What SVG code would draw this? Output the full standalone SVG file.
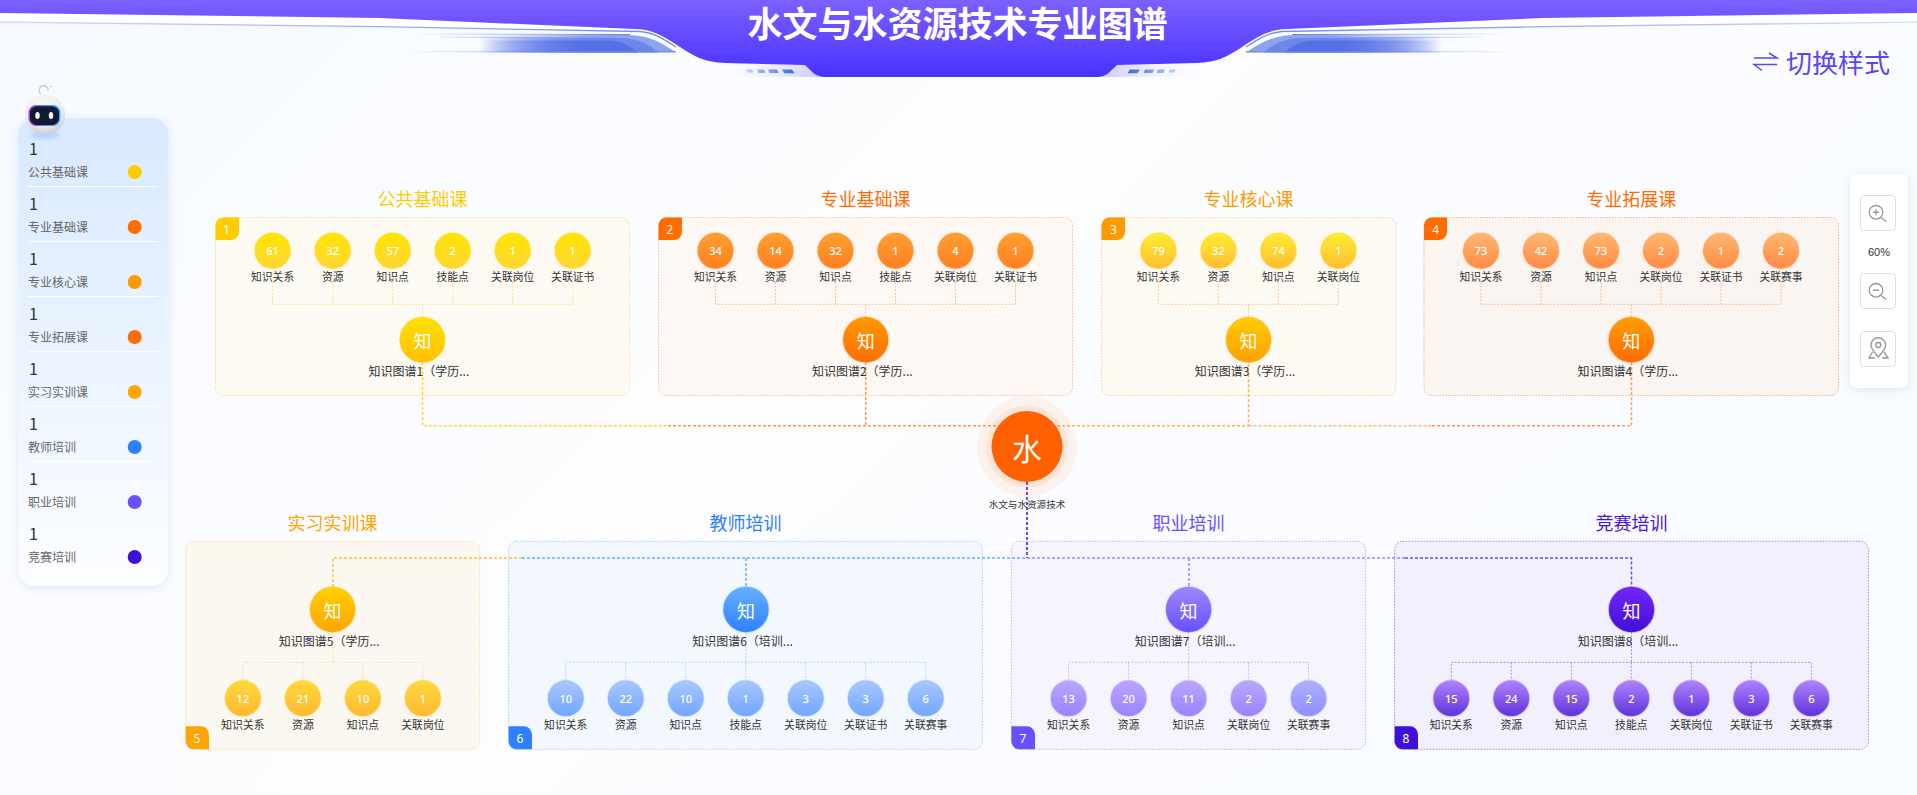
<svg xmlns="http://www.w3.org/2000/svg" xmlns:xlink="http://www.w3.org/1999/xlink" width="1917" height="795" viewBox="0 0 1917 795">
<defs>
<linearGradient id="bg" x1="0" y1="0" x2="1" y2="0.4"><stop offset="0" stop-color="#f5f9ff"/><stop offset="0.5" stop-color="#fdfdff"/><stop offset="1" stop-color="#f8fbff"/></linearGradient>
<linearGradient id="band" gradientUnits="userSpaceOnUse" x1="0" y1="0" x2="0" y2="77"><stop offset="0" stop-color="#7c60ff"/><stop offset="1" stop-color="#4732ff"/></linearGradient>
<linearGradient id="legend" x1="0" y1="0" x2="0" y2="1"><stop offset="0" stop-color="#d8e9ff"/><stop offset="0.6" stop-color="#eef6ff"/><stop offset="1" stop-color="#fcfdff"/></linearGradient>
<linearGradient id="line" gradientUnits="userSpaceOnUse" x1="0" y1="0" x2="670" y2="0"><stop offset="0" stop-color="#cfe0fc"/><stop offset="1" stop-color="#6d8cf0"/></linearGradient>
<linearGradient id="w1" gradientUnits="userSpaceOnUse" x1="480" y1="0" x2="590" y2="0"><stop offset="0" stop-color="#8aa4ee" stop-opacity="0"/><stop offset="1" stop-color="#8aa4ee"/></linearGradient>
<linearGradient id="w2" gradientUnits="userSpaceOnUse" x1="480" y1="0" x2="590" y2="0"><stop offset="0" stop-color="#6f86e8" stop-opacity="0"/><stop offset="1" stop-color="#6f86e8"/></linearGradient>
<linearGradient id="w3" gradientUnits="userSpaceOnUse" x1="480" y1="0" x2="590" y2="0"><stop offset="0" stop-color="#566ee6" stop-opacity="0"/><stop offset="1" stop-color="#566ee6"/></linearGradient>
<linearGradient id="wl" gradientUnits="userSpaceOnUse" x1="405" y1="0" x2="600" y2="0"><stop offset="0" stop-color="#6d86e8" stop-opacity="0"/><stop offset="1" stop-color="#6d86e8"/></linearGradient>
<linearGradient id="sh" gradientUnits="userSpaceOnUse" x1="715" y1="0" x2="825" y2="0"><stop offset="0" stop-color="#ffffff" stop-opacity="0"/><stop offset="1" stop-color="#c4c4fb"/></linearGradient>
<linearGradient id="dt" gradientUnits="userSpaceOnUse" x1="745" y1="0" x2="796" y2="0"><stop offset="0" stop-color="#bcd6f5"/><stop offset="1" stop-color="#3468d6"/></linearGradient>
<linearGradient id="s1" x1="0" y1="0" x2="0" y2="1"><stop offset="0" stop-color="#ffe500"/><stop offset="1" stop-color="#ffd535"/></linearGradient>
<linearGradient id="s2" x1="0" y1="0" x2="0" y2="1"><stop offset="0" stop-color="#ffa030"/><stop offset="1" stop-color="#ff7f22"/></linearGradient>
<linearGradient id="s3" x1="0" y1="0" x2="0" y2="1"><stop offset="0" stop-color="#ffee2e"/><stop offset="1" stop-color="#ffbc33"/></linearGradient>
<linearGradient id="s4" x1="0" y1="0" x2="0" y2="1"><stop offset="0" stop-color="#ffb870"/><stop offset="1" stop-color="#ff8a45"/></linearGradient>
<linearGradient id="s5" x1="0" y1="0" x2="0" y2="1"><stop offset="0" stop-color="#ffd93a"/><stop offset="1" stop-color="#ffb833"/></linearGradient>
<linearGradient id="s6" x1="0" y1="0" x2="0" y2="1"><stop offset="0" stop-color="#a8c8ff"/><stop offset="1" stop-color="#72a6ff"/></linearGradient>
<linearGradient id="s7" x1="0" y1="0" x2="0" y2="1"><stop offset="0" stop-color="#bba6ff"/><stop offset="1" stop-color="#9c82ff"/></linearGradient>
<linearGradient id="s9" x1="0" y1="0" x2="0" y2="1"><stop offset="0" stop-color="#aeaeff"/><stop offset="1" stop-color="#8f8fff"/></linearGradient>
<linearGradient id="s8" x1="0" y1="0" x2="0" y2="1"><stop offset="0" stop-color="#b083ff"/><stop offset="1" stop-color="#5f33d8"/></linearGradient>
<linearGradient id="b1" x1="0" y1="0" x2="0" y2="1"><stop offset="0" stop-color="#ffe000"/><stop offset="1" stop-color="#ffc000"/></linearGradient>
<linearGradient id="b2" x1="0" y1="0" x2="0" y2="1"><stop offset="0" stop-color="#ff9a00"/><stop offset="1" stop-color="#ff6d00"/></linearGradient>
<linearGradient id="b3" x1="0" y1="0" x2="0" y2="1"><stop offset="0" stop-color="#ffcc00"/><stop offset="1" stop-color="#ff9f00"/></linearGradient>
<linearGradient id="b4" x1="0" y1="0" x2="0" y2="1"><stop offset="0" stop-color="#ff9f00"/><stop offset="1" stop-color="#ff6a00"/></linearGradient>
<linearGradient id="b5" x1="0" y1="0" x2="0" y2="1"><stop offset="0" stop-color="#ffd000"/><stop offset="1" stop-color="#ffa500"/></linearGradient>
<linearGradient id="b6" x1="0" y1="0" x2="0" y2="1"><stop offset="0" stop-color="#66b0ff"/><stop offset="1" stop-color="#2f80ff"/></linearGradient>
<linearGradient id="b7" x1="0" y1="0" x2="0" y2="1"><stop offset="0" stop-color="#9c88ff"/><stop offset="1" stop-color="#6650ff"/></linearGradient>
<linearGradient id="b8" x1="0" y1="0" x2="0" y2="1"><stop offset="0" stop-color="#7426f5"/><stop offset="1" stop-color="#4010d8"/></linearGradient>
<radialGradient id="egg" cx="0.45" cy="0.3" r="0.75"><stop offset="0" stop-color="#fbfbfb"/><stop offset="0.65" stop-color="#ececee"/><stop offset="1" stop-color="#c6c6cc"/></radialGradient>
<linearGradient id="visor" x1="0" y1="0" x2="1" y2="0"><stop offset="0" stop-color="#b040d0"/><stop offset="1" stop-color="#30b0ff"/></linearGradient>
<filter id="soft" x="-20%" y="-20%" width="140%" height="140%"><feDropShadow dx="0" dy="2" stdDeviation="5" flood-color="#9ab4dc" flood-opacity="0.28"/></filter>
<filter id="blur2" x="-50%" y="-50%" width="200%" height="200%"><feGaussianBlur stdDeviation="2"/></filter>
<g id="wing">
<path d="M720 64 L805 65 C810 71 815 75 825 77 H700 Z" fill="url(#sh)"/>
<g fill="url(#dt)"><path d="M746 69.5h6l1.500 3h-6z"/><path d="M757 69.500h7l1.500 3.500h-7z"/><path d="M768 69.500h9l1.500 3.500h-9z"/><path d="M782 69.500h10l2.500 3.800h-10z"/></g>
<path d="M0 13 L380 18 L640 29.300 C655 31 665 37 680 47 L672 44 C660 36 650 33 640 32.500 L380 27 L0 22 Z" fill="#ffffff"/>
<path d="M0 22 L380 26.700 L640 31.500 C655 33 664 39 676 47" fill="none" stroke="url(#line)" stroke-width="1.300"/>
<path d="M480 35 L630 35 C650 36 662 43 676 52.500 H480 Z" fill="url(#w1)"/>
<path d="M480 38 L622 38 C640 39 650 45 658 52.500 H480 Z" fill="url(#w2)"/>
<path d="M480 40.500 L610 40.500 C622 41 630 46 638 52.500 H480 Z" fill="url(#w3)"/>
<path d="M407 51.700 H676 M420 34 L630 34.500 M440 37 L620 38.500" fill="none" stroke="url(#wl)" stroke-width="1"/>
</g>
</defs>
<style>
text{font-family:"Noto Sans CJK SC","Noto Sans",sans-serif;dominant-baseline:central}
.m{text-anchor:middle}
.ti{font-size:18px;text-anchor:middle}
.lb{font-size:10.8px;fill:#333;text-anchor:middle}
.nm{font-size:11px;fill:#fff;text-anchor:middle;font-family:"Noto Sans",sans-serif;font-weight:500}
.bl{font-size:12px;fill:#333}
.bt{font-size:18px;fill:#fff;text-anchor:middle}
.tn{font-size:12px;fill:#fff;text-anchor:middle;font-family:"Noto Sans",sans-serif}
.ln{font-size:12px;fill:#666}
.n1{font-size:16px;fill:#333;font-family:"Liberation Sans",sans-serif}
.pn{stroke-width:1;stroke-dasharray:1.500 1.500;stroke-opacity:.85}
.cn{fill:none;stroke-width:1.500;stroke-dasharray:3 2}
.th{fill:none;stroke-width:1;stroke-dasharray:2 1.500}
.bd{stroke-width:2;stroke-opacity:.22}
.ico{fill:none;stroke:#9b9b9b;stroke-width:1.400}
.btn{fill:#fff;stroke:#ddd;stroke-width:1}
</style>
<rect id="background" width="1917" height="795" fill="url(#bg)"/>
<g id="header">
<use href="#wing"/>
<use href="#wing" transform="translate(1922,0) scale(-1,1)"/>
<path d="M0 0H1917V13 L1542 18 L1282 29.300 C1267 31 1257 37 1242 47 C1227 57 1217 62 1197 63 L1117 65 C1110 72 1106 77 1097 77 H825 C816 77 812 72 805 65 L725 63 C705 62 695 57 680 47 C665 37 655 31 640 29.300 L380 18 L0 13 Z" fill="url(#band)"/>
<text x="957.500" y="21.500" class="m" font-size="35" font-weight="700" fill="#fff">水文与水资源技术专业图谱</text>
</g>
<g id="switch-style">
<path d="M1754 58 H1777 L1769 53 M1777 64.500 H1754 L1762 70.500" fill="none" stroke="#5a46f5" stroke-width="1.500"/>
<text x="1786" y="61.500" font-size="26" fill="#5a46f5">切换样式</text>
</g>
<g id="legend-panel">
<rect x="18.400" y="118.300" width="149.800" height="467.400" rx="16" fill="url(#legend)" filter="url(#soft)"/>
<g fill="#fff"><rect x="28" y="186" width="130" height="1"/><rect x="28" y="241" width="130" height="1"/><rect x="28" y="296" width="130" height="1"/><rect x="28" y="351" width="130" height="1"/><rect x="28" y="406" width="130" height="1"/><rect x="28" y="461" width="130" height="1"/><rect x="28" y="516" width="130" height="1"/><rect x="28" y="571" width="130" height="1"/></g>
<g class="n1"><text x="29" y="148">1</text><text x="29" y="203">1</text><text x="29" y="258">1</text><text x="29" y="313">1</text><text x="29" y="368">1</text><text x="29" y="423">1</text><text x="29" y="478">1</text><text x="29" y="533">1</text></g>
<g class="ln"><text x="28" y="171.300">公共基础课</text><text x="28" y="226.300">专业基础课</text><text x="28" y="281.300">专业核心课</text><text x="28" y="336.300">专业拓展课</text><text x="28" y="391.300">实习实训课</text><text x="28" y="446.300">教师培训</text><text x="28" y="501.300">职业培训</text><text x="28" y="556.300">竞赛培训</text></g>
<circle cx="134.700" cy="172" r="7" fill="#ffcc00"/><circle cx="134.700" cy="227" r="7" fill="#ff6d00"/><circle cx="134.700" cy="282" r="7" fill="#ff9900"/><circle cx="134.700" cy="337" r="7" fill="#ff6d00"/><circle cx="134.700" cy="392" r="7" fill="#ffa500"/><circle cx="134.700" cy="447" r="7" fill="#2f80ff"/><circle cx="134.700" cy="502" r="7" fill="#6650ff"/><circle cx="134.700" cy="557" r="7" fill="#4010d8"/>
</g>
<g id="robot">
<ellipse cx="45" cy="135" rx="15" ry="3" fill="#a8ccff" filter="url(#blur2)"/>
<path d="M41 94 a4.500 4.500 0 1 1 7 -3 M40 86 l1 1 M45 84 v1.500 M50 87 l2 -1" fill="none" stroke="#c6c6cc" stroke-width="1.200"/>
<circle cx="45" cy="114.500" r="20" fill="url(#egg)"/>
<rect x="28.500" y="105" width="32" height="21" rx="7.500" fill="url(#visor)"/>
<rect x="30" y="106.200" width="29" height="18.800" rx="7" fill="#111a33"/>
<ellipse cx="37.500" cy="115.500" rx="2.200" ry="3.500" fill="#fff"/><ellipse cx="51" cy="115.500" rx="2.200" ry="3.500" fill="#fff"/>
</g>
<g id="zoom-controls">
<rect x="1850" y="174" width="58" height="214" rx="8" fill="#fff" filter="url(#soft)"/>
<rect class="btn" x="1860.500" y="195.500" width="35" height="35" rx="3"/>
<circle class="ico" cx="1876" cy="212.300" r="6.800"/><path class="ico" d="M1881 217.500 L1886.500 221.500 M1873 212.300 H1879 M1876 209.300 V215.300"/>
<text x="1879" y="252" class="m" font-size="11" fill="#333" style="font-family:'Liberation Sans',sans-serif">60%</text>
<rect class="btn" x="1860.500" y="273.500" width="35" height="35" rx="3"/>
<circle class="ico" cx="1876" cy="290.300" r="6.800"/><path class="ico" d="M1881 295.500 L1886.500 299.500 M1873 290.300 H1879"/>
<rect class="btn" x="1860.500" y="331.500" width="35" height="35" rx="3"/>
<path class="ico" d="M1878.300 357 C1874 352 1871 349 1871 345 A7.300 7.300 0 0 1 1885.600 345 C1885.600 349 1882.600 352 1878.300 357 Z M1872.500 352 L1869 358 H1875 M1884 352 L1888 358 H1882"/><circle class="ico" cx="1878.300" cy="345" r="2.500"/>
</g>

<g id="panels">
<g><text x="422.400" y="198.300" class="ti" fill="#ffcc00">公共基础课</text><rect class="pn" x="215.500" y="217.500" width="414" height="178" rx="8" fill="#fcfaf3" stroke="#ffd966"/><path d="M215.500 225.500a8 8 0 0 1 8-8H239V232a8 8 0 0 1-8 8H215.500Z" fill="#ffcc00"/><text class="tn" x="226.500" y="229">1</text></g>
<g><text x="865.400" y="198.300" class="ti" fill="#ff6d00">专业基础课</text><rect class="pn" x="658.500" y="217.500" width="414" height="178" rx="8" fill="#fdf8f3" stroke="#ffb07a"/><path d="M658.500 225.500a8 8 0 0 1 8-8H682V232a8 8 0 0 1-8 8H658.500Z" fill="#ff6d00"/><text class="tn" x="669.700" y="229">2</text></g>
<g><text x="1248.500" y="198.300" class="ti" fill="#ff9900">专业核心课</text><rect class="pn" x="1101.500" y="217.500" width="294.300" height="178" rx="8" fill="#fdfaf4" stroke="#ffc880"/><path d="M1101.500 225.500a8 8 0 0 1 8-8H1125V232a8 8 0 0 1-8 8H1101.500Z" fill="#ff9900"/><text class="tn" x="1113.500" y="229">3</text></g>
<g><text x="1631.300" y="198.300" class="ti" fill="#ff6d00">专业拓展课</text><rect class="pn" x="1424" y="217.500" width="414.500" height="178" rx="8" fill="#faf5f1" stroke="#ffa566"/><path d="M1424 225.500a8 8 0 0 1 8-8H1447V232a8 8 0 0 1-8 8H1424Z" fill="#ff6d00"/><text class="tn" x="1435.800" y="229">4</text></g>
<g><text x="332.600" y="522.300" class="ti" fill="#ffa500">实习实训课</text><rect class="pn" x="185.700" y="541.300" width="294" height="208" rx="8" fill="#fbf8f1" stroke="#ffcf80"/><path d="M185.700 726.300H201a8 8 0 0 1 8 8V749.300H193.700a8 8 0 0 1-8-8Z" fill="#ffa500"/><text class="tn" x="197" y="738">5</text></g>
<g><text x="745.500" y="522.300" class="ti" fill="#2f80ff">教师培训</text><rect class="pn" x="508.600" y="541.300" width="473.800" height="208" rx="8" fill="#f3f8ff" stroke="#99c2ff"/><path d="M508.600 726.300H524a8 8 0 0 1 8 8V749.300H516.600a8 8 0 0 1-8-8Z" fill="#2f80ff"/><text class="tn" x="520" y="738">6</text></g>
<g><text x="1188.500" y="522.300" class="ti" fill="#6650ff">职业培训</text><rect class="pn" x="1011.400" y="541.300" width="354.200" height="208" rx="8" fill="#f6f5fe" stroke="#b3a6ff"/><path d="M1011.400 726.300H1027a8 8 0 0 1 8 8V749.300H1019.400a8 8 0 0 1-8-8Z" fill="#6650ff"/><text class="tn" x="1023" y="738">7</text></g>
<g><text x="1631.500" y="522.300" class="ti" fill="#4a14e0">竞赛培训</text><rect class="pn" x="1394.600" y="541.300" width="473.800" height="208" rx="8" fill="#f1f0fc" stroke="#8d75ee"/><path d="M1394.600 726.300H1410a8 8 0 0 1 8 8V749.300H1402.600a8 8 0 0 1-8-8Z" fill="#4010d8"/><text class="tn" x="1406" y="738">8</text></g>
</g>

<g id="connectors">
<path class="th" stroke="#ffe28a" d="M272.600 282V304.300H572.700V282M332.700 282V304.300M392.700 282V304.300M452.700 282V304.300M512.700 282V304.300M422.500 304.300V317"/>
<path class="th" stroke="#ffbf8c" d="M715.500 282V304.300H1015.500V282M775.500 282V304.300M835.500 282V304.300M895.500 282V304.300M955.500 282V304.300M865.700 304.300V317"/>
<path class="th" stroke="#ffc98a" d="M1158.400 282V304.300H1338.400V282M1218.400 282V304.300M1278.400 282V304.300M1248.500 304.300V317"/>
<path class="th" stroke="#ffb88c" d="M1481 282V304.300H1781V282M1541 282V304.300M1601 282V304.300M1661 282V304.300M1721 282V304.300M1631.300 304.300V317"/>
<path class="th" stroke="#ffdda6" d="M333 632V662.300M243 680V662.300H423V680M303 662.300V680M363 662.300V680"/>
<path class="th" stroke="#b9d3ff" d="M746 632V662.300M565.700 680V662.300H925.700V680M625.700 662.300V680M685.700 662.300V680M745.700 662.300V680M805.700 662.300V680M865.700 662.300V680"/>
<path class="th" stroke="#c5bbff" d="M1188.600 632V662.300M1068.600 680V662.300H1308.600V680M1128.600 662.300V680M1188.600 662.300V680M1248.600 662.300V680"/>
<path class="th" stroke="#a78ff5" d="M1631.500 632V662.300M1451.300 680V662.300H1811.300V680M1511.300 662.300V680M1571.300 662.300V680M1631.300 662.300V680M1691.300 662.300V680M1751.300 662.300V680"/>
<path class="cn" stroke="#ffd633" d="M422.500 362V425.700H668"/>
<path class="cn" stroke="#ff9a40" d="M668 425.700H1027M865.700 362V425.700"/>
<path class="cn" stroke="#ffb050" d="M1027 425.700H1248.500V362"/>
<path class="cn" stroke="#ffc068" d="M1248.500 425.700H1432"/>
<path class="cn" stroke="#ff9a55" d="M1432 425.700H1631.500V362"/>
<path class="cn" stroke="#ffb84d" d="M522 558H333V587"/>
<path class="cn" stroke="#6ea8ff" d="M522 558H1027M746 558V587"/>
<path class="cn" stroke="#9d85ff" d="M1027 558H1405M1189 558V587"/>
<path class="cn" stroke="#7048e6" d="M1405 558H1631.500V587"/>
<path class="cn" stroke="#4010d8" d="M1027 482V558"/>
</g>

<g id="root"><circle cx="1027" cy="446.500" r="50" fill="#ff6000" opacity=".07"/><circle cx="1027" cy="446.500" r="41" fill="#ff6000" opacity=".09"/><circle cx="1027" cy="446.500" r="35.500" fill="#ff6000"/><text x="1027" y="446.500" class="m" font-size="30" fill="#fff">水</text><text x="1027" y="503.700" class="m" font-size="9.600" fill="#333">水文与水资源技术</text></g>

<g id="kg1" transform="translate(422.400,339.700)"><circle class="bd" r="22.700" fill="url(#b1)" stroke="#ffcc00"/><text class="bt">知</text><text class="bl" x="-53.800" y="31.200">知识图谱1（学历...</text></g>
<g id="kg2" transform="translate(865.700,339.700)"><circle class="bd" r="22.700" fill="url(#b2)" stroke="#ff8a30"/><text class="bt">知</text><text class="bl" x="-53.800" y="31.200">知识图谱2（学历...</text></g>
<g id="kg3" transform="translate(1248.500,339.700)"><circle class="bd" r="22.700" fill="url(#b3)" stroke="#ffb030"/><text class="bt">知</text><text class="bl" x="-53.800" y="31.200">知识图谱3（学历...</text></g>
<g id="kg4" transform="translate(1631.300,339.700)"><circle class="bd" r="22.700" fill="url(#b4)" stroke="#ff8a30"/><text class="bt">知</text><text class="bl" x="-53.800" y="31.200">知识图谱4（学历...</text></g>
<g id="kg5" transform="translate(332.600,609.500)"><circle class="bd" r="22.700" fill="url(#b5)" stroke="#ffb830"/><text class="bt">知</text><text class="bl" x="-53.800" y="31.400">知识图谱5（学历...</text></g>
<g id="kg6" transform="translate(746,609.500)"><circle class="bd" r="22.700" fill="url(#b6)" stroke="#66a0ff"/><text class="bt">知</text><text class="bl" x="-53.800" y="31.400">知识图谱6（培训...</text></g>
<g id="kg7" transform="translate(1188.600,609.500)"><circle class="bd" r="22.700" fill="url(#b7)" stroke="#8070ff"/><text class="bt">知</text><text class="bl" x="-53.800" y="31.400">知识图谱7（培训...</text></g>
<g id="kg8" transform="translate(1631.500,609.500)"><circle class="bd" r="22.700" fill="url(#b8)" stroke="#6030e0"/><text class="bt">知</text><text class="bl" x="-53.800" y="31.400">知识图谱8（培训...</text></g>

<g id="group1" fill="url(#s1)" stroke="#ffd633" class="bd">
<g id="n1a" transform="translate(272.600,250.700)"><circle r="18"/><text class="nm" stroke="none">61</text><text class="lb" y="25.300" stroke="none">知识关系</text></g>
<g id="n1b" transform="translate(332.700,250.700)"><circle r="18"/><text class="nm" stroke="none">32</text><text class="lb" y="25.300" stroke="none">资源</text></g>
<g id="n1c" transform="translate(392.700,250.700)"><circle r="18"/><text class="nm" stroke="none">57</text><text class="lb" y="25.300" stroke="none">知识点</text></g>
<g id="n1d" transform="translate(452.700,250.700)"><circle r="18"/><text class="nm" stroke="none">2</text><text class="lb" y="25.300" stroke="none">技能点</text></g>
<g id="n1e" transform="translate(512.700,250.700)"><circle r="18"/><text class="nm" stroke="none">1</text><text class="lb" y="25.300" stroke="none">关联岗位</text></g>
<g id="n1f" transform="translate(572.700,250.700)"><circle r="18"/><text class="nm" stroke="none">1</text><text class="lb" y="25.300" stroke="none">关联证书</text></g>
</g>
<g id="group2" fill="url(#s2)" stroke="#ff9a50" class="bd">
<g id="n2a" transform="translate(715.500,250.700)"><circle r="18"/><text class="nm" stroke="none">34</text><text class="lb" y="25.300" stroke="none">知识关系</text></g>
<g id="n2b" transform="translate(775.500,250.700)"><circle r="18"/><text class="nm" stroke="none">14</text><text class="lb" y="25.300" stroke="none">资源</text></g>
<g id="n2c" transform="translate(835.500,250.700)"><circle r="18"/><text class="nm" stroke="none">32</text><text class="lb" y="25.300" stroke="none">知识点</text></g>
<g id="n2d" transform="translate(895.500,250.700)"><circle r="18"/><text class="nm" stroke="none">1</text><text class="lb" y="25.300" stroke="none">技能点</text></g>
<g id="n2e" transform="translate(955.500,250.700)"><circle r="18"/><text class="nm" stroke="none">4</text><text class="lb" y="25.300" stroke="none">关联岗位</text></g>
<g id="n2f" transform="translate(1015.500,250.700)"><circle r="18"/><text class="nm" stroke="none">1</text><text class="lb" y="25.300" stroke="none">关联证书</text></g>
</g>
<g id="group3" fill="url(#s3)" stroke="#ffd040" class="bd">
<g id="n3a" transform="translate(1158.400,250.700)"><circle r="18"/><text class="nm" stroke="none">79</text><text class="lb" y="25.300" stroke="none">知识关系</text></g>
<g id="n3b" transform="translate(1218.400,250.700)"><circle r="18"/><text class="nm" stroke="none">32</text><text class="lb" y="25.300" stroke="none">资源</text></g>
<g id="n3c" transform="translate(1278.400,250.700)"><circle r="18"/><text class="nm" stroke="none">74</text><text class="lb" y="25.300" stroke="none">知识点</text></g>
<g id="n3d" transform="translate(1338.400,250.700)"><circle r="18"/><text class="nm" stroke="none">1</text><text class="lb" y="25.300" stroke="none">关联岗位</text></g>
</g>
<g id="group4" fill="url(#s4)" stroke="#ffa870" class="bd">
<g id="n4a" transform="translate(1481,250.700)"><circle r="18"/><text class="nm" stroke="none">73</text><text class="lb" y="25.300" stroke="none">知识关系</text></g>
<g id="n4b" transform="translate(1541,250.700)"><circle r="18"/><text class="nm" stroke="none">42</text><text class="lb" y="25.300" stroke="none">资源</text></g>
<g id="n4c" transform="translate(1601,250.700)"><circle r="18"/><text class="nm" stroke="none">73</text><text class="lb" y="25.300" stroke="none">知识点</text></g>
<g id="n4d" transform="translate(1661,250.700)"><circle r="18"/><text class="nm" stroke="none">2</text><text class="lb" y="25.300" stroke="none">关联岗位</text></g>
<g id="n4e" transform="translate(1721,250.700)"><circle r="18"/><text class="nm" stroke="none">1</text><text class="lb" y="25.300" stroke="none">关联证书</text></g>
<g id="n4f" transform="translate(1781,250.700)"><circle r="18"/><text class="nm" stroke="none">2</text><text class="lb" y="25.300" stroke="none">关联赛事</text></g>
</g>
<g id="group5" fill="url(#s5)" stroke="#ffd040" class="bd">
<g id="n5a" transform="translate(242.900,698.300)"><circle r="18"/><text class="nm" stroke="none">12</text><text class="lb" y="25.700" stroke="none">知识关系</text></g>
<g id="n5b" transform="translate(302.900,698.300)"><circle r="18"/><text class="nm" stroke="none">21</text><text class="lb" y="25.700" stroke="none">资源</text></g>
<g id="n5c" transform="translate(362.900,698.300)"><circle r="18"/><text class="nm" stroke="none">10</text><text class="lb" y="25.700" stroke="none">知识点</text></g>
<g id="n5d" transform="translate(422.900,698.300)"><circle r="18"/><text class="nm" stroke="none">1</text><text class="lb" y="25.700" stroke="none">关联岗位</text></g>
</g>
<g id="group6" fill="url(#s6)" stroke="#9cc0ff" class="bd">
<g id="n6a" transform="translate(565.700,698.300)"><circle r="18"/><text class="nm" stroke="none">10</text><text class="lb" y="25.700" stroke="none">知识关系</text></g>
<g id="n6b" transform="translate(625.700,698.300)"><circle r="18"/><text class="nm" stroke="none">22</text><text class="lb" y="25.700" stroke="none">资源</text></g>
<g id="n6c" transform="translate(685.700,698.300)"><circle r="18"/><text class="nm" stroke="none">10</text><text class="lb" y="25.700" stroke="none">知识点</text></g>
<g id="n6d" transform="translate(745.700,698.300)"><circle r="18"/><text class="nm" stroke="none">1</text><text class="lb" y="25.700" stroke="none">技能点</text></g>
<g id="n6e" transform="translate(805.700,698.300)"><circle r="18"/><text class="nm" stroke="none">3</text><text class="lb" y="25.700" stroke="none">关联岗位</text></g>
<g id="n6f" transform="translate(865.700,698.300)"><circle r="18"/><text class="nm" stroke="none">3</text><text class="lb" y="25.700" stroke="none">关联证书</text></g>
<g id="n6g" transform="translate(925.700,698.300)"><circle r="18"/><text class="nm" stroke="none">6</text><text class="lb" y="25.700" stroke="none">关联赛事</text></g>
</g>
<g id="group7" fill="url(#s7)" stroke="#c0b0ff" class="bd">
<g id="n7a" transform="translate(1068.600,698.300)"><circle r="18"/><text class="nm" stroke="none">13</text><text class="lb" y="25.700" stroke="none">知识关系</text></g>
<g id="n7b" transform="translate(1128.600,698.300)"><circle r="18"/><text class="nm" stroke="none">20</text><text class="lb" y="25.700" stroke="none">资源</text></g>
<g id="n7c" transform="translate(1188.600,698.300)"><circle r="18"/><text class="nm" stroke="none">11</text><text class="lb" y="25.700" stroke="none">知识点</text></g>
<g id="n7d" transform="translate(1248.600,698.300)"><circle r="18"/><text class="nm" stroke="none">2</text><text class="lb" y="25.700" stroke="none">关联岗位</text></g>
<g id="n7e" transform="translate(1308.600,698.300)"><circle r="18" fill="url(#s9)"/><text class="nm" stroke="none">2</text><text class="lb" y="25.700" stroke="none">关联赛事</text></g>
</g>
<g id="group8" fill="url(#s8)" stroke="#a080f0" class="bd">
<g id="n8a" transform="translate(1451.300,698.300)"><circle r="18"/><text class="nm" stroke="none">15</text><text class="lb" y="25.700" stroke="none">知识关系</text></g>
<g id="n8b" transform="translate(1511.300,698.300)"><circle r="18"/><text class="nm" stroke="none">24</text><text class="lb" y="25.700" stroke="none">资源</text></g>
<g id="n8c" transform="translate(1571.300,698.300)"><circle r="18"/><text class="nm" stroke="none">15</text><text class="lb" y="25.700" stroke="none">知识点</text></g>
<g id="n8d" transform="translate(1631.300,698.300)"><circle r="18"/><text class="nm" stroke="none">2</text><text class="lb" y="25.700" stroke="none">技能点</text></g>
<g id="n8e" transform="translate(1691.300,698.300)"><circle r="18"/><text class="nm" stroke="none">1</text><text class="lb" y="25.700" stroke="none">关联岗位</text></g>
<g id="n8f" transform="translate(1751.300,698.300)"><circle r="18"/><text class="nm" stroke="none">3</text><text class="lb" y="25.700" stroke="none">关联证书</text></g>
<g id="n8g" transform="translate(1811.300,698.300)"><circle r="18"/><text class="nm" stroke="none">6</text><text class="lb" y="25.700" stroke="none">关联赛事</text></g>
</g>
</svg>
